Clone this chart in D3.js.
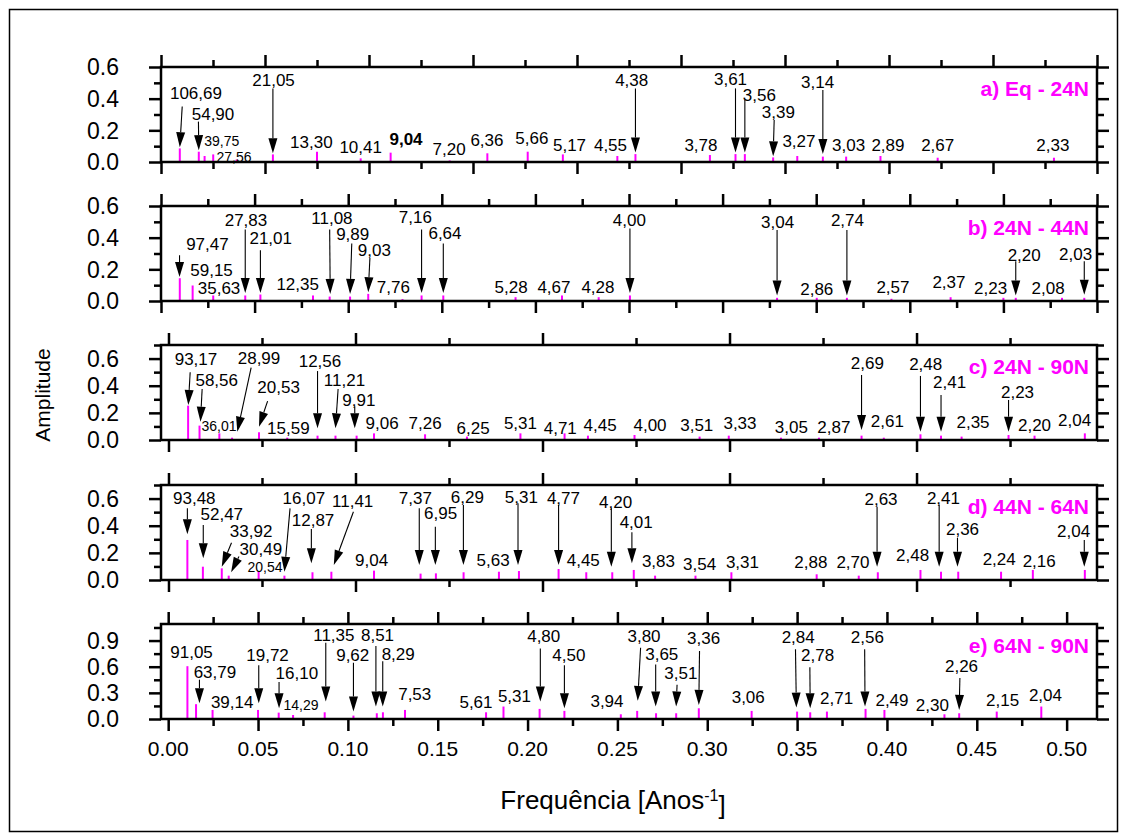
<!DOCTYPE html>
<html><head><meta charset="utf-8">
<script src="https://cdn.jsdelivr.net/npm/d3@7"></script>
<style>body{margin:0;background:#fff} svg{display:block} text{font-family:"Liberation Sans",Arial,sans-serif}</style>
</head><body><svg id="chart" width="1127" height="840"></svg>
<script>
// ---------------- DATA (frequency [1/years], amplitude) ----------------
// Panel a) Eq - 24N
const freqA = [0.00904,0.01817,0.02096,0.0251,0.0363,0.0538,0.0750,0.0960,0.1104,0.1388,0.1569,0.1763,0.1932,0.2194,0.2281,0.2639,0.2762,0.2807,0.2943,0.3059,0.3182,0.3294,0.3459,0.3734,0.4293];
const ampA  = [0.086,0.065,0.038,0.048,0.015,0.048,0.065,0.023,0.059,0.01,0.055,0.065,0.048,0.038,0.05,0.044,0.05,0.05,0.029,0.038,0.034,0.034,0.038,0.027,0.027];
// Panel b) 24N - 44N
const freqB = [0.01004,0.0169,0.0279,0.045,0.0531,0.0812,0.0901,0.101,0.1107,0.129,0.1392,0.1508,0.1894,0.2142,0.2338,0.2505,0.3291,0.3503,0.3664,0.3902,0.4218,0.45,0.4566,0.4813,0.4932];
const ampB  = [0.144,0.098,0.035,0.035,0.041,0.035,0.028,0.028,0.045,0.012,0.035,0.035,0.024,0.035,0.024,0.035,0.02,0.02,0.02,0.014,0.024,0.02,0.02,0.02,0.02];
// Panel c) 24N - 90N
const freqC = [0.0105,0.0166,0.0272,0.034,0.0484,0.0635,0.0797,0.0893,0.1006,0.1099,0.1372,0.1596,0.1882,0.2118,0.2243,0.2492,0.284,0.2996,0.3275,0.3478,0.3706,0.3825,0.4021,0.4131,0.4241,0.4492,0.4631,0.490];
const ampC  = [0.253,0.106,0.049,0.017,0.057,0.017,0.032,0.032,0.032,0.049,0.042,0.025,0.049,0.049,0.032,0.037,0.025,0.032,0.017,0.017,0.032,0.017,0.042,0.032,0.025,0.037,0.032,0.049];
// Panel d) 44N - 64N
const freqD = [0.0101,0.0184,0.0285,0.0322,0.0482,0.062,0.077,0.0871,0.1099,0.1348,0.143,0.1578,0.1767,0.1874,0.2086,0.2234,0.2373,0.2488,0.2602,0.2818,0.301,0.3466,0.3691,0.3793,0.4021,0.4131,0.4223,0.4452,0.4622,0.49];
const ampD  = [0.295,0.098,0.086,0.032,0.066,0.032,0.057,0.061,0.069,0.047,0.049,0.057,0.061,0.066,0.081,0.057,0.057,0.074,0.032,0.032,0.057,0.042,0.032,0.057,0.074,0.061,0.061,0.061,0.074,0.074];
// Panel e) 64N - 90N
const freqE = [0.0107,0.0155,0.0247,0.05,0.0615,0.0695,0.0871,0.1031,0.1161,0.1195,0.1318,0.1769,0.1866,0.2067,0.2205,0.2519,0.261,0.2715,0.2827,0.2953,0.3247,0.35,0.3573,0.3666,0.3881,0.3986,0.432,0.4402,0.4611,0.4859];
const ampE  = [0.606,0.17,0.104,0.104,0.073,0.046,0.077,0.039,0.066,0.077,0.104,0.077,0.143,0.116,0.093,0.054,0.093,0.066,0.066,0.123,0.093,0.085,0.077,0.085,0.116,0.104,0.054,0.066,0.085,0.143];

// Period labels (text, freq, amplitude level, style)
const labelsA = [["106,69",0.0168,0.434],["54,90",0.025,0.307],["39,75",0.0292,0.135,"s"],["27,56",0.0351,0.034,"s"],["21,05",0.0541,0.518],["13,30",0.0723,0.128],["10,41",0.096,0.097],["9,04",0.1178,0.143,"b"],["7,20",0.1385,0.086],["6,36",0.1567,0.139],["5,66",0.1783,0.15],["5,17",0.1964,0.107],["4,55",0.2161,0.107],["4,38",0.2263,0.518],["3,78",0.2596,0.107],["3,61",0.2738,0.522],["3,56",0.2877,0.423],["3,39",0.2968,0.318],["3,27",0.3067,0.135],["3,14",0.3157,0.507],["3,03",0.3306,0.107],["2,89",0.3495,0.107],["2,67",0.3734,0.107],["2,33",0.4288,0.107]];
const labelsB = [["97,47",0.0248,0.363],["59,15",0.027,0.198],["35,63",0.031,0.084],["27,83",0.0454,0.511],["21,01",0.0586,0.401],["12,35",0.073,0.105],["11,08",0.0913,0.528],["9,89",0.1024,0.425],["9,03",0.1140,0.325],["7,76",0.1241,0.088],["7,16",0.1359,0.532],["6,64",0.1517,0.433],["5,28",0.187,0.088],["4,67",0.2099,0.088],["4,28",0.2334,0.088],["4,00",0.2502,0.511],["3,04",0.3294,0.5],["2,86",0.3503,0.077],["2,74",0.3667,0.511],["2,57",0.391,0.092],["2,37",0.4209,0.12],["2,23",0.4432,0.084],["2,20",0.4611,0.289],["2,08",0.4739,0.084],["2,03",0.4886,0.295]];
const labelsC = [["93,17",0.0147,0.597],["58,56",0.0258,0.442],["36,01",0.027,0.103,"s"],["28,99",0.0484,0.602],["20,53",0.0589,0.393],["15,59",0.0641,0.086],["12,56",0.081,0.582],["11,21",0.0941,0.442],["9,91",0.1018,0.295],["9,06",0.1142,0.123],["7,26",0.1372,0.123],["6,25",0.1629,0.091],["5,31",0.1882,0.123],["4,71",0.2095,0.091],["4,45",0.2308,0.11],["4,00",0.2575,0.115],["3,51",0.2825,0.11],["3,33",0.3056,0.123],["3,05",0.3331,0.098],["2,87",0.3558,0.098],["2,69",0.3737,0.565],["2,61",0.3844,0.14],["2,48",0.4049,0.558],["2,41",0.4177,0.43],["2,35",0.4302,0.135],["2,23",0.454,0.351],["2,20",0.4631,0.11],["2,04",0.4845,0.147]];
const labelsD = [["93,48",0.0138,0.607],["52,47",0.0285,0.484],["33,92",0.0442,0.362],["30,49",0.0494,0.228],["20,54",0.0516,0.098,"s"],["16,07",0.0724,0.602],["12,87",0.0773,0.442],["11,41",0.0985,0.582],["9,04",0.1086,0.147],["7,37",0.132,0.602],["6,95",0.1455,0.491],["6,29",0.1598,0.609],["5,63",0.1736,0.147],["5,31",0.1887,0.614],["4,77",0.2112,0.602],["4,45",0.2218,0.147],["4,20",0.2391,0.577],["4,01",0.2501,0.43],["3,83",0.262,0.14],["3,54",0.284,0.116],["3,31",0.3069,0.13],["2,88",0.3435,0.13],["2,70",0.366,0.13],["2,63",0.381,0.597],["2,48",0.3979,0.184],["2,41",0.4144,0.607],["2,36",0.4246,0.376],["2,24",0.4442,0.155],["2,16",0.4656,0.14],["2,04",0.484,0.361]];
const labelsE = [["91,05",0.013,0.772],["63,79",0.026,0.54],["39,14",0.0356,0.2],["19,72",0.0553,0.733],["16,10",0.0716,0.529],["14,29",0.0739,0.162,"s"],["11,35",0.0922,0.964],["9,62",0.1027,0.733],["8,51",0.1165,0.964],["8,29",0.128,0.749],["7,53",0.1372,0.286],["5,61",0.1713,0.193],["5,31",0.1927,0.27],["4,80",0.209,0.953],["4,50",0.223,0.741],["3,94",0.2442,0.208],["3,80",0.2648,0.953],["3,65",0.2747,0.749],["3,51",0.2853,0.529],["3,36",0.298,0.926],["3,06",0.3228,0.258],["2,84",0.3506,0.941],["2,78",0.3614,0.733],["2,71",0.372,0.239],["2,56",0.3891,0.941],["2,49",0.4028,0.22],["2,30",0.4253,0.162],["2,26",0.4415,0.606],["2,15",0.4644,0.22],["2,04",0.4882,0.278]];

// Arrows: [freq start, amp start, freq tip, amp tip]
const arrowsA = [[0.0102,0.35,0.00904,0.093],[0.018,0.255,0.01817,0.075],[0.0538,0.465,0.0538,0.056],[0.2281,0.465,0.2281,0.06],[0.2762,0.465,0.2762,0.06],[0.2807,0.392,0.2807,0.06],[0.2948,0.265,0.2943,0.036],[0.3182,0.455,0.3182,0.05]];
const arrowsB = [[0.0099,0.289,0.0099,0.151],[0.045,0.452,0.045,0.05],[0.0531,0.321,0.0531,0.05],[0.0901,0.452,0.0904,0.045],[0.1019,0.363,0.101,0.045],[0.1116,0.272,0.1107,0.055],[0.1392,0.452,0.1392,0.05],[0.1508,0.363,0.1508,0.05],[0.2505,0.458,0.2505,0.05],[0.3291,0.448,0.3291,0.035],[0.3664,0.448,0.3664,0.035],[0.4566,0.251,0.4566,0.035],[0.4932,0.251,0.4932,0.04]];
const arrowsC = [[0.0116,0.499,0.0106,0.258],[0.018,0.376,0.0171,0.135],[0.0442,0.533,0.0368,0.061],[0.053,0.287,0.0484,0.098],[0.0797,0.508,0.0797,0.086],[0.0907,0.376,0.0893,0.086],[0.0996,0.246,0.0996,0.086],[0.3706,0.479,0.3706,0.074],[0.4021,0.472,0.4021,0.061],[0.4131,0.332,0.4131,0.061],[0.4492,0.295,0.4492,0.061]];
const arrowsD = [[0.0101,0.528,0.0101,0.337],[0.0186,0.405,0.0186,0.16],[0.0337,0.275,0.0285,0.098],[0.0377,0.174,0.0335,0.057],[0.065,0.528,0.062,0.061],[0.0764,0.376,0.0764,0.123],[0.0989,0.503,0.0884,0.11],[0.1341,0.528,0.1341,0.11],[0.1427,0.393,0.1427,0.11],[0.1577,0.553,0.1577,0.11],[0.1869,0.565,0.1869,0.11],[0.2086,0.553,0.2086,0.11],[0.2368,0.528,0.2368,0.098],[0.2478,0.351,0.2478,0.123],[0.3789,0.54,0.3789,0.098],[0.4121,0.553,0.4121,0.098],[0.4219,0.312,0.4219,0.098],[0.4897,0.295,0.4897,0.098]];
const arrowsE = [[0.0174,0.451,0.0174,0.181],[0.0504,0.617,0.0504,0.181],[0.0617,0.424,0.0617,0.123],[0.0877,0.876,0.0877,0.2],[0.1031,0.644,0.1031,0.085],[0.1156,0.837,0.1156,0.143],[0.1194,0.664,0.1194,0.143],[0.2071,0.81,0.2071,0.2],[0.2205,0.617,0.2205,0.123],[0.2629,0.818,0.2613,0.208],[0.2713,0.625,0.2713,0.143],[0.2832,0.394,0.2827,0.143],[0.2957,0.779,0.2953,0.162],[0.3491,0.799,0.3496,0.131],[0.3571,0.594,0.3573,0.123],[0.3876,0.799,0.3878,0.143],[0.4406,0.471,0.4402,0.104]];

const titles = ["a) Eq - 24N","b) 24N - 44N","c) 24N - 90N","d) 44N - 64N","e) 64N - 90N"];
const xTickLabels = [0,0.05,0.1,0.15,0.2,0.25,0.3,0.35,0.4,0.45,0.5];
const xTitle = "Frequência [Anos";
const yTitle = "Amplitude";

// ---------------- LAYOUT ----------------
const L = 161, R = 1097, H = 95;
const panels = [
  {freq:freqA, amp:ampA, labels:labelsA, arrows:arrowsA, top:67,  xd:[0,0.45],        ymax:0.6,  xMinor:0.025, xMajor:0.05, yMajor:0.2, yMinor:0.1},
  {freq:freqB, amp:ampB, labels:labelsB, arrows:arrowsB, top:206, xd:[0,0.5],         ymax:0.6,  xMinor:0.025, xMajor:0.05, yMajor:0.2, yMinor:0.1},
  {freq:freqC, amp:ampC, labels:labelsC, arrows:arrowsC, top:345, xd:[-0.004,0.4965], ymax:0.7,  xMinor:0.05,  xMajor:0.1,  yMajor:0.2, yMinor:0.1},
  {freq:freqD, amp:ampD, labels:labelsD, arrows:arrowsD, top:485, xd:[-0.004,0.4965], ymax:0.7,  xMinor:0.05,  xMajor:0.1,  yMajor:0.2, yMinor:0.1},
  {freq:freqE, amp:ampE, labels:labelsE, arrows:arrowsE, top:624, xd:[-0.004,0.5169], ymax:1.09, xMinor:0.025, xMajor:0.05, yMajor:0.3, yMinor:0.15}
];

const svg = d3.select("#chart");
svg.append("rect").attr("width",1127).attr("height",840).attr("fill","#fff");
svg.append("rect").attr("x",9.5).attr("y",9.5).attr("width",1108).attr("height",822)
  .attr("fill","none").attr("stroke","#000").attr("stroke-width",1.5);

const MAJ = 12, MIN = 7, TW = 2.5;
function rng(a,b,s){const out=[];for(let v=Math.ceil(a/s-1e-6)*s;v<=b+1e-9;v+=s)out.push(+v.toFixed(4));return out;}

panels.forEach((p,i)=>{
  const x = d3.scaleLinear().domain(p.xd).range([L,R]);
  const y = d3.scaleLinear().domain([0,p.ymax]).range([p.top+H,p.top]);
  const g = svg.append("g");
  const bottom = p.top+H;

  const xMaj = rng(p.xd[0],p.xd[1],p.xMajor);
  const xMin = rng(p.xd[0],p.xd[1],p.xMinor).filter(v=>!xMaj.some(m=>Math.abs(m-v)<1e-6));
  const yMaj = rng(0,p.ymax,p.yMajor);
  const yMin = rng(0,p.ymax,p.yMinor).filter(v=>!yMaj.some(m=>Math.abs(m-v)<1e-6));
  const addAxis = (gen, vals, size, tr) => {
    const a = g.append("g").attr("transform",tr).call(gen.tickValues(vals).tickSize(size).tickFormat(""));
    a.select(".domain").remove();
    a.selectAll(".tick line").attr("stroke","#000").attr("stroke-width",TW);
  };
  addAxis(d3.axisTop(x),xMaj,MAJ,`translate(0,${p.top})`);
  addAxis(d3.axisTop(x),xMin,MIN,`translate(0,${p.top})`);
  addAxis(d3.axisBottom(x),xMaj,MAJ,`translate(0,${bottom})`);
  addAxis(d3.axisBottom(x),xMin,MIN,`translate(0,${bottom})`);
  addAxis(d3.axisLeft(y),yMaj,MAJ,`translate(${L},0)`);
  addAxis(d3.axisLeft(y),yMin,MIN,`translate(${L},0)`);
  addAxis(d3.axisRight(y),yMaj,MAJ,`translate(${R},0)`);
  addAxis(d3.axisRight(y),yMin,MIN,`translate(${R},0)`);

  g.selectAll("text.yl").data(yMaj).join("text").attr("class","yl")
    .attr("x",119).attr("y",d=>y(d)).attr("dy","0.36em").attr("text-anchor","end")
    .attr("font-size",23).text(d=>d.toFixed(1));

  g.selectAll("line.bar").data(d3.zip(p.freq,p.amp)).join("line").attr("class","bar")
    .attr("x1",d=>x(d[0])).attr("x2",d=>x(d[0])).attr("y1",y(0)).attr("y2",d=>y(d[1]))
    .attr("stroke","#ff00ff").attr("stroke-width",2);

  g.append("rect").attr("x",L).attr("y",p.top).attr("width",R-L).attr("height",H)
    .attr("fill","none").attr("stroke","#000").attr("stroke-width",TW);

  p.arrows.forEach(a=>{
    const x0=x(a[0]),y0=y(a[1]),x1=x(a[2]),y1=y(a[3]);
    const dx=x1-x0,dy=y1-y0,len=Math.hypot(dx,dy),ux=dx/len,uy=dy/len;
    const hl=15,hw=4.5,bx=x1-ux*hl,by=y1-uy*hl;
    g.append("line").attr("x1",x0).attr("y1",y0).attr("x2",bx).attr("y2",by).attr("stroke","#000").attr("stroke-width",1.1);
    g.append("path").attr("d",`M${x1},${y1}L${bx-uy*hw},${by+ux*hw}L${bx+uy*hw},${by-ux*hw}Z`).attr("fill","#000");
  });

  g.selectAll("text.pl").data(p.labels).join("text").attr("class","pl")
    .attr("x",d=>x(d[1])).attr("y",d=>y(d[2])).attr("dy","0.36em").attr("text-anchor","middle")
    .attr("font-size",d=>d[3]==="s"?14:17).attr("font-weight",d=>d[3]==="b"?"bold":"normal")
    .text(d=>d[0]);

  g.append("text").attr("x",1089).attr("y",y(p.ymax)+21).attr("dy","0.36em").attr("text-anchor","end")
    .attr("font-size",21).attr("font-weight","bold").attr("fill","#ff00ff").text(titles[i]);

  if(i===panels.length-1){
    g.selectAll("text.xl").data(xTickLabels).join("text").attr("class","xl")
      .attr("x",d=>x(d)).attr("y",748).attr("dy","0.36em").attr("text-anchor","middle")
      .attr("font-size",21).text(d=>d.toFixed(2));
  }
});

const xt = svg.append("text").attr("x",613).attr("y",800).attr("dy","0.36em").attr("text-anchor","middle").attr("font-size",26);
xt.append("tspan").text(xTitle);
xt.append("tspan").attr("dy","-0.5em").attr("font-size",16).text("-1");
xt.append("tspan").attr("dy","0.5em").text("]");
svg.append("text").attr("transform","translate(42,395) rotate(-90)").attr("dy","0.36em").attr("text-anchor","middle")
  .attr("font-size",21).text(yTitle);
</script></body></html>
